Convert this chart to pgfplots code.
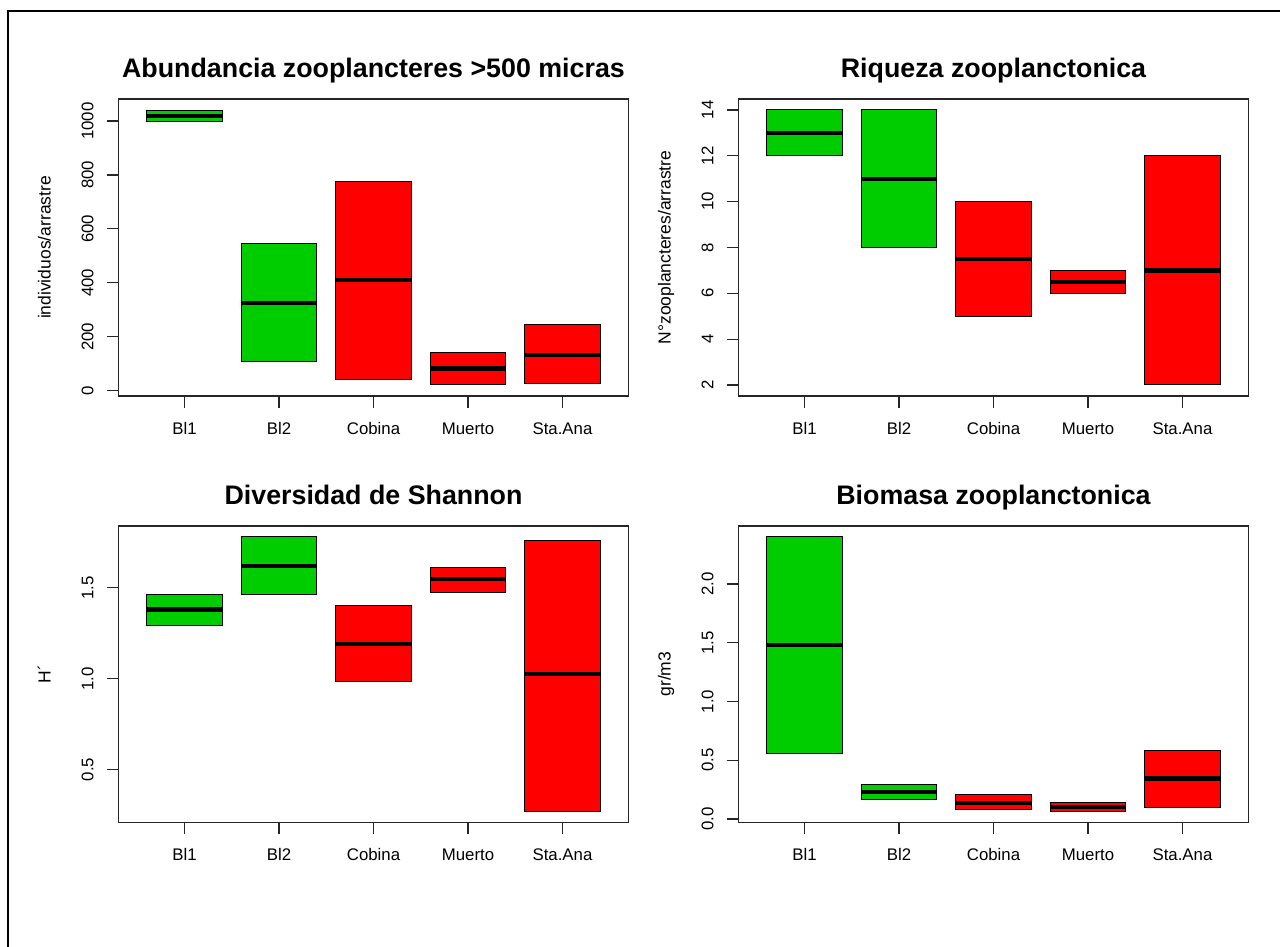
\documentclass[border=0pt]{standalone}
\usepackage{fontspec}
\setmainfont{Liberation Sans}
\usepackage{pgfplots}
\pgfplotsset{compat=1.18}
\definecolor{rgreen}{RGB}{0,205,0}
\definecolor{rred}{RGB}{255,0,0}
\pgfplotsset{
  rpanel/.style={
    scale only axis, width=255.1pt, height=148.5pt,
    xmin=0.3, xmax=5.7, xtick={1,2,3,4,5},
    xticklabels={Bl1,Bl2,Cobina,Muerto,Sta.Ana},
    tick align=outside, major tick length=5.85pt, tick pos=left,
    axis line style={black!85, line width=0.6pt},
    every tick/.style={black!85, line width=0.6pt},
    tick label style={font=\fontsize{8.4}{10}\selectfont},
    label style={font=\fontsize{8.75}{10}\selectfont},
    title style={font=\fontsize{13.4}{16}\selectfont\bfseries,
      at={(axis description cs:0.5,1)}, anchor=base, yshift=4.85pt},
    yticklabel style={xshift=-6.65pt, rotate=90, anchor=base},
    xticklabel style={anchor=base, yshift=-13.3pt},
    ylabel style={at={(axis description cs:-0.133,0.5)}, anchor=base},
    /pgf/number format/assume math mode=true,
    /pgf/number format/1000 sep={},
    scaled y ticks=false,
  },
}
% colour, left x, right x, lower hinge, median, upper hinge
\newcommand\rbox[6]{%
  \addplot[fill=#1, draw=black, line width=0.5pt, line join=miter]
    coordinates {(#2,#4) (#3,#4) (#3,#6) (#2,#6)} -- cycle;
  \addplot[black, line width=2.1pt] coordinates {(#2,#5) (#3,#5)};
}
\begin{document}
\begin{tikzpicture}
\path[use as bounding box] (0,0) rectangle (640pt,473.5pt);
\draw[line width=1pt] (3.75pt,0) -- (3.75pt,468pt) -- (640pt,468pt);

% Panel 1
\begin{axis}[rpanel, at={(59.2pt,275.5pt)}, anchor=south west,
  ymin=-19.8, ymax=1081.8, ytick={0,200,400,600,800,1000},
  title={Abundancia zooplancteres >500 micras}, ylabel={individuos/arrastre}]
\rbox{rgreen}{0.6}{1.4}{1000}{1020}{1040}
\rbox{rgreen}{1.6}{2.4}{108}{326}{545}
\rbox{rred}{2.6}{3.4}{41}{409}{774}
\rbox{rred}{3.6}{4.4}{21}{82}{142}
\rbox{rred}{4.6}{5.4}{25}{133}{245}
\end{axis}

% Panel 2
\begin{axis}[rpanel, at={(369.2pt,275.5pt)}, anchor=south west,
  ymin=1.52, ymax=14.48, ytick={2,4,6,8,10,12,14},
  title={Riqueza zooplanctonica}, ylabel={N°zooplancteres/arrastre}]
\rbox{rgreen}{0.6}{1.4}{12}{13}{14}
\rbox{rgreen}{1.6}{2.4}{8}{11}{14}
\rbox{rred}{2.6}{3.4}{5}{7.5}{10}
\rbox{rred}{3.6}{4.4}{6}{6.5}{7}
\rbox{rred}{4.6}{5.4}{2}{7}{12}
\end{axis}

% Panel 3
\begin{axis}[rpanel, at={(59.2pt,62.35pt)}, anchor=south west, height=148.15pt,
  ymin=0.21, ymax=1.84, ytick={0.5,1,1.5},
  yticklabel style={/pgf/number format/.cd, fixed, fixed zerofill, precision=1},
  title={Diversidad de Shannon}, ylabel={H´}]
\rbox{rgreen}{0.6}{1.4}{1.29}{1.381}{1.462}
\rbox{rgreen}{1.6}{2.4}{1.462}{1.621}{1.78}
\rbox{rred}{2.6}{3.4}{0.985}{1.192}{1.403}
\rbox{rred}{3.6}{4.4}{1.476}{1.548}{1.614}
\rbox{rred}{4.6}{5.4}{0.27}{1.024}{1.758}
\end{axis}

% Panel 4
\begin{axis}[rpanel, at={(369.2pt,62.35pt)}, anchor=south west, height=148.15pt,
  ymin=-0.028, ymax=2.493, ytick={0,0.5,1,1.5,2},
  yticklabel style={/pgf/number format/.cd, fixed, fixed zerofill, precision=1},
  title={Biomasa zooplanctonica}, ylabel={gr/m3}]
\rbox{rgreen}{0.6}{1.4}{0.558}{1.48}{2.40}
\rbox{rgreen}{1.6}{2.4}{0.17}{0.233}{0.292}
\rbox{rred}{2.6}{3.4}{0.08}{0.139}{0.21}
\rbox{rred}{3.6}{4.4}{0.065}{0.105}{0.14}
\rbox{rred}{4.6}{5.4}{0.10}{0.345}{0.58}
\end{axis}
\end{tikzpicture}
\end{document}
